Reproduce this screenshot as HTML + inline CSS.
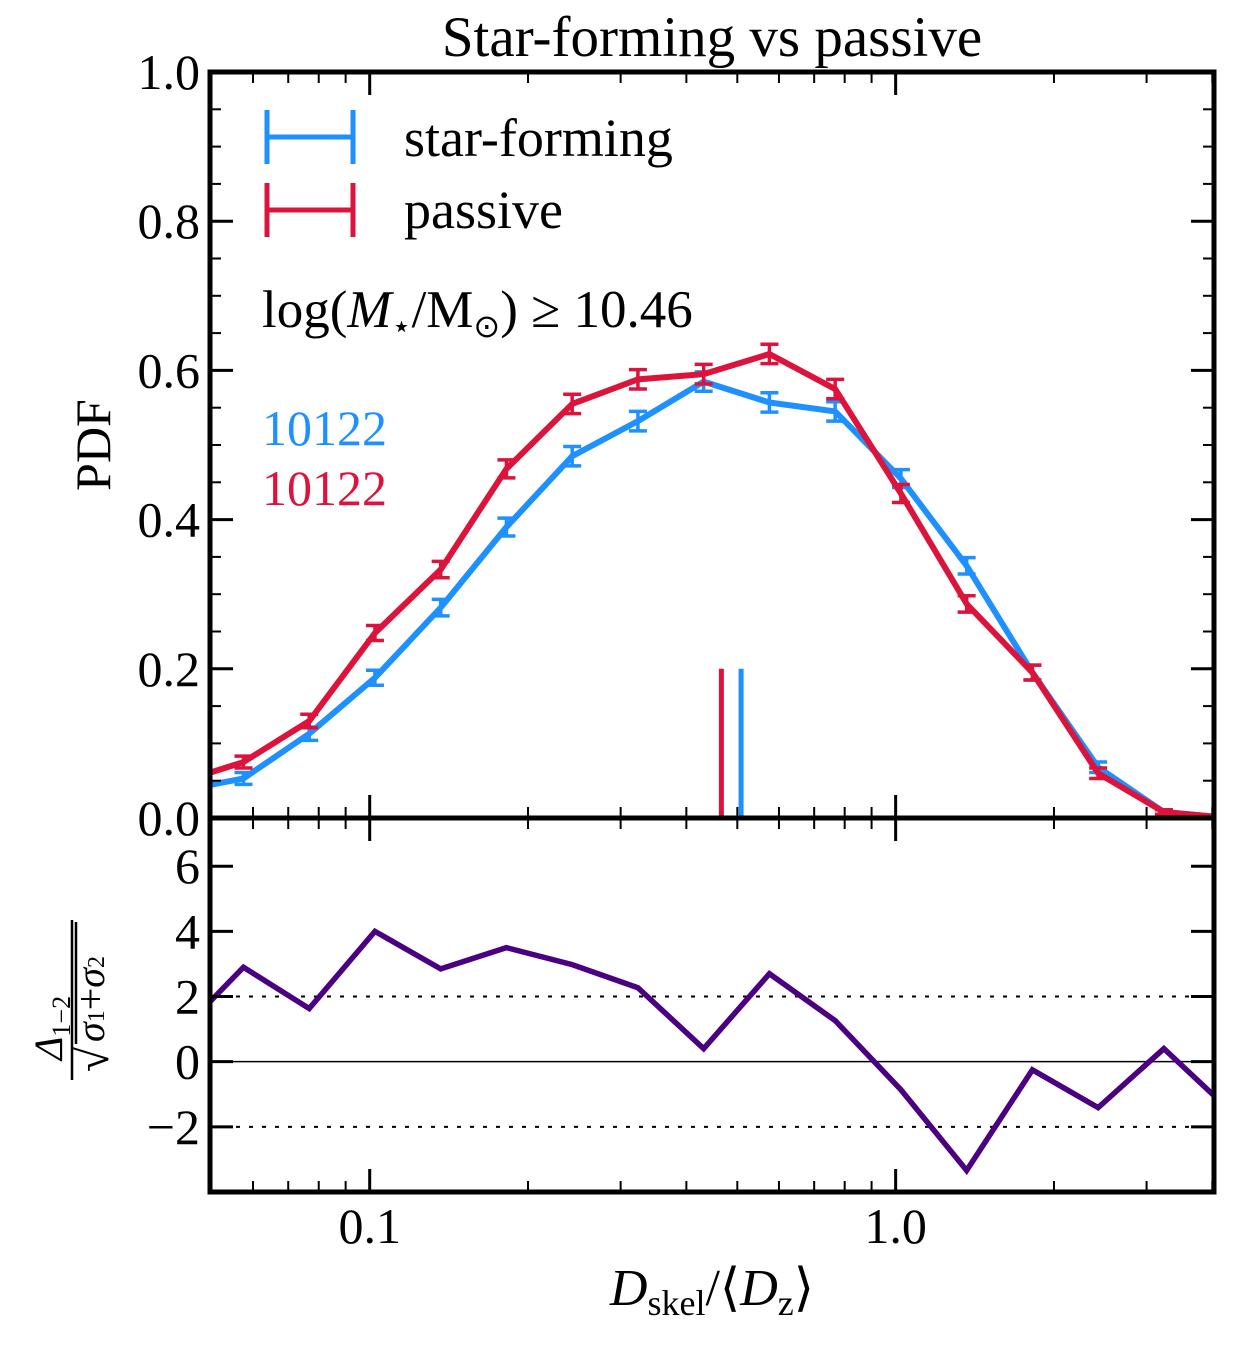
<!DOCTYPE html>
<html><head><meta charset="utf-8"><style>
html,body{margin:0;padding:0;background:#fff;}
svg{display:block;font-family:"Liberation Serif",serif;}
</style></head><body>
<svg id="chart" width="1234" height="1350" viewBox="0 0 1234 1350" xmlns="http://www.w3.org/2000/svg">
<defs>
<clipPath id="clipTop"><rect x="210" y="72" width="1004" height="746"/></clipPath>
<clipPath id="clipBot"><rect x="210" y="818" width="1004" height="374"/></clipPath>
</defs>
<g id="marks"></g>
<g id="axes"></g>
<text x="712" y="56" font-size="57" text-anchor="middle">Star-forming vs passive</text>
<text transform="translate(110,445) rotate(-90)" font-size="50" text-anchor="middle">PDF</text>
<g transform="translate(72,1000) rotate(-90)" font-size="40">
<text x="-28" y="-10" text-anchor="middle" font-style="italic">Δ<tspan font-size="26" font-style="normal" dy="8">1−2</tspan></text>
<line x1="-80" y1="0" x2="80" y2="0" stroke="#000" stroke-width="2.5"/>
<text x="-72" y="36" font-size="46">√</text>
<line x1="-44" y1="4" x2="78" y2="4" stroke="#000" stroke-width="2.5"/>
<text x="-42" y="32" font-style="italic">σ<tspan font-size="24" font-style="normal">1</tspan><tspan font-style="normal">+</tspan>σ<tspan font-size="24" font-style="normal">2</tspan></text>
</g>
<text x="712" y="1305" font-size="52" text-anchor="middle"><tspan font-style="italic">D</tspan><tspan font-size="36" dy="10">skel</tspan><tspan dy="-10">/⟨</tspan><tspan font-style="italic">D</tspan><tspan font-size="36" dy="10">z</tspan><tspan dy="-10">⟩</tspan></text>
<g>
<g stroke="#1e90ff" stroke-width="5">
<line x1="267" y1="137" x2="353" y2="137"/><line x1="267" y1="110" x2="267" y2="164"/><line x1="353" y1="110" x2="353" y2="164"/>
</g>
<text x="404" y="156" font-size="54">star-forming</text>
<g stroke="#dc143c" stroke-width="5">
<line x1="267" y1="210" x2="353" y2="210"/><line x1="267" y1="183" x2="267" y2="237"/><line x1="353" y1="183" x2="353" y2="237"/>
</g>
<text x="404" y="228" font-size="54">passive</text>
</g>
<text x="262" y="327" font-size="53">log(<tspan font-style="italic">M</tspan><tspan font-size="32" dy="10">⋆</tspan><tspan dy="-10">/M</tspan><tspan font-size="32" dy="10">⊙</tspan><tspan dy="-10">) ≥ 10.46</tspan></text>
<text x="262" y="445" font-size="50" fill="#1e90ff">10122</text>
<text x="262" y="505" font-size="50" fill="#dc143c">10122</text>
</svg>
<script>
const logX = [-1.365,-1.240,-1.115,-0.990,-0.865,-0.740,-0.615,-0.490,-0.365,-0.240,-0.115,0.010,0.135,0.260,0.385,0.510,0.635];
const sfValues = [0.036,0.053,0.113,0.188,0.282,0.390,0.485,0.532,0.585,0.557,0.545,0.455,0.338,0.195,0.068,0.008,0.0];
const pasValues = [0.047,0.075,0.130,0.248,0.333,0.468,0.555,0.588,0.595,0.622,0.575,0.435,0.287,0.195,0.060,0.008,0.0];
const sfErr = [0.008,0.008,0.009,0.010,0.011,0.012,0.013,0.013,0.013,0.013,0.013,0.012,0.011,0.010,0.007,0.003,0.0];
const pasErr = [0.008,0.008,0.009,0.010,0.011,0.012,0.013,0.013,0.013,0.013,0.013,0.012,0.011,0.010,0.007,0.003,0.0];
const sigValues = [0.82,2.9,1.63,4.0,2.85,3.5,2.98,2.27,0.4,2.7,1.26,-0.86,-3.34,-0.25,-1.41,0.4,-1.49];
const medians = [0.4663,0.5083];
const yTicksTop = ["0.0","0.2","0.4","0.6","0.8","1.0"];
const yTicksBot = ["−2","0","2","4","6"];
const xTickLabels = ["0.1","1.0"];

const NS="http://www.w3.org/2000/svg";
const X0=210,X1=1214,YT0=72,YT1=818,YB0=818,YB1=1192;
const lx0=Math.log10(0.0497), lx1=Math.log10(4.03);
const xs = l => X0+(l-lx0)/(lx1-lx0)*(X1-X0);
const xv = v => xs(Math.log10(v));
const yt = v => YT1-(v-0)/(1-0)*(YT1-YT0);
const yb = v => YB1-(v+4)/(7.48+4)*(YB1-YB0);
const marks=document.getElementById('marks'), axes=document.getElementById('axes');
function mk(tag,attrs,parent){const e=document.createElementNS(NS,tag);for(const k in attrs)e.setAttribute(k,attrs[k]);parent.appendChild(e);return e;}

const gTop=mk('g',{'clip-path':'url(#clipTop)'},marks);
const gBot=mk('g',{'clip-path':'url(#clipBot)'},marks);
function series(vals,errs,color,name){
  const g=mk('g',{},gTop);
  
  
  const p=mk('polyline',{points:logX.map((l,i)=>xs(l)+','+yt(vals[i])).join(' '),fill:'none',stroke:color,'stroke-width':6,'stroke-linejoin':'round'},g);
  
  
  logX.forEach((l,i)=>{
    if(errs[i]<=0) return;
    const x=xs(l),a=yt(vals[i]-errs[i]),b=yt(vals[i]+errs[i]);
    const e=mk('path',{d:`M${x},${a}V${b}M${x-9},${a}H${x+9}M${x-9},${b}H${x+9}`,stroke:color,'stroke-width':3.5,fill:'none'},g);
    
    
  });
}
series(sfValues,sfErr,'#1e90ff','star-forming');
series(pasValues,pasErr,'#dc143c','passive');
const medColors=['#dc143c','#1e90ff'];
medians.forEach((m,i)=>{
  const l=mk('line',{x1:xv(m),x2:xv(m),y1:yt(0.2),y2:yt(0),stroke:medColors[i],'stroke-width':5},gTop);
  
  
});
[[2,'4 9'],[-2,'4 9'],[0,null]].forEach(([v,d])=>{
  const l=mk('line',{x1:X0,x2:X1,y1:yb(v),y2:yb(v),stroke:'#000','stroke-width':d?2:1.5},gBot);
  if(d) l.setAttribute('stroke-dasharray',d);
  
  
});
const sp=mk('polyline',{points:logX.map((l,i)=>xs(l)+','+yb(sigValues[i])).join(' '),fill:'none',stroke:'#4b0082','stroke-width':5.5,'stroke-linejoin':'miter'},gBot);



function tick(x1,y1,x2,y2,w){mk('line',{x1,y1,x2,y2,stroke:'#000','stroke-width':w},axes);}
yTicksTop.forEach(t=>{const v=parseFloat(t),y=yt(v);tick(X0,y,X0+23,y,3);tick(X1-23,y,X1,y,3);
  const tx=mk('text',{x:X0-10,y:y+17,'font-size':50,'text-anchor':'end'},axes);tx.textContent=t;
  
  });
for(let v=0.05;v<1;v+=0.1){const y=yt(v);tick(X0,y,X0+11,y,2);tick(X1-11,y,X1,y,2);}
for(let v=0.1;v<1;v+=0.2){const y=yt(v);tick(X0,y,X0+11,y,2);tick(X1-11,y,X1,y,2);}
yTicksBot.forEach(t=>{const v=parseFloat(t.replace('−','-')),y=yb(v);tick(X0,y,X0+23,y,3);tick(X1-23,y,X1,y,3);
  const tx=mk('text',{x:X0-10,y:y+17,'font-size':50,'text-anchor':'end'},axes);tx.textContent=t;
  
  });
const minors=[0.06,0.07,0.08,0.09,0.2,0.3,0.4,0.5,0.6,0.7,0.8,0.9,2,3,4];
minors.forEach(v=>{const x=xv(v);tick(x,YT0,x,YT0+11,2);tick(x,YT1-11,x,YT1+11,2);tick(x,YB1-11,x,YB1,2);});
xTickLabels.forEach(t=>{const x=xv(parseFloat(t));tick(x,YT0,x,YT0+23,3);tick(x,YT1-23,x,YT1+23,3);tick(x,YB1-23,x,YB1,3);
  const tx=mk('text',{x:x,y:1243,'font-size':50,'text-anchor':'middle'},axes);tx.textContent=t;
  
  });
const f1=mk('rect',{x:X0,y:YT0,width:X1-X0,height:YT1-YT0,fill:'none',stroke:'#000','stroke-width':5},axes);


const f2=mk('rect',{x:X0,y:YB0,width:X1-X0,height:YB1-YB0,fill:'none',stroke:'#000','stroke-width':5},axes);


</script>
</body></html>
